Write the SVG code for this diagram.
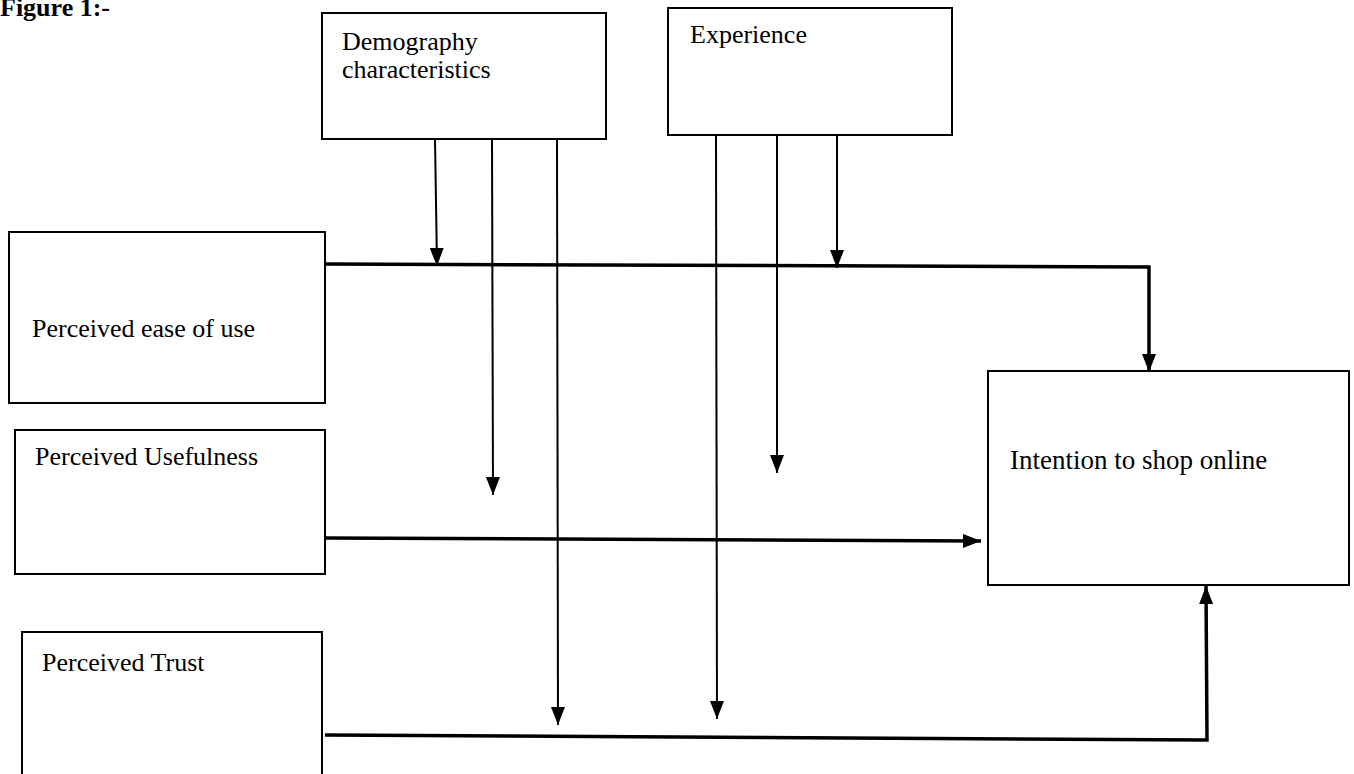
<svg xmlns="http://www.w3.org/2000/svg" width="1354" height="774" viewBox="0 0 1354 774">
<style>
.box{fill:#fff;stroke:#000;stroke-width:2}
.thin{fill:none;stroke:#000;stroke-width:2}
.thick{fill:none;stroke:#000;stroke-width:3.5}
</style>
<defs>
<marker id="ah" markerUnits="userSpaceOnUse" markerWidth="18" markerHeight="14" refX="18" refY="7" viewBox="0 0 18 14" orient="auto">
<path d="M0,0 L18,7 L0,14 Z" fill="#000"/>
</marker>
</defs>
<rect width="1354" height="774" fill="#fff"/>
<g font-family="Liberation Serif, Times New Roman, serif" font-size="26" fill="#000">
<text x="0" y="16" font-weight="bold">Figure 1:-</text>
<g id="demography">
<rect class="box" x="322" y="13" width="284" height="126"/>
<text x="342" y="50">Demography</text>
<text x="342" y="78">characteristics</text>
</g>
<g id="experience">
<rect class="box" x="668" y="8" width="284" height="127"/>
<text x="690" y="43">Experience</text>
</g>
<g id="peou">
<rect class="box" x="9" y="232" width="316" height="171"/>
<text x="32" y="337">Perceived ease of use</text>
</g>
<g id="pu">
<rect class="box" x="15" y="430" width="310" height="144"/>
<text x="35" y="465">Perceived Usefulness</text>
</g>
<g id="pt">
<rect class="box" x="22" y="632" width="300" height="150"/>
<text x="42" y="671">Perceived Trust</text>
</g>
<g id="intention">
<rect class="box" x="988" y="371" width="361" height="214"/>
<text x="1010" y="469" font-size="27">Intention to shop online</text>
</g>
</g>
<g id="connectors">
<polyline class="thick" points="325,264 1149,267 1149,372" marker-end="url(#ah)"/>
<line class="thick" x1="325" y1="538" x2="981" y2="541" marker-end="url(#ah)"/>
<polyline class="thick" points="325,735 1207,740 1206,586" marker-end="url(#ah)"/>
<line class="thin" x1="435" y1="139" x2="437" y2="266" marker-end="url(#ah)"/>
<line class="thin" x1="492" y1="139" x2="493" y2="495" marker-end="url(#ah)"/>
<line class="thin" x1="557" y1="139" x2="558" y2="725" marker-end="url(#ah)"/>
<line class="thin" x1="716" y1="135" x2="717" y2="719" marker-end="url(#ah)"/>
<line class="thin" x1="777" y1="135" x2="777" y2="473" marker-end="url(#ah)"/>
<line class="thin" x1="837" y1="135" x2="837" y2="268" marker-end="url(#ah)"/>
</g>
</svg>
